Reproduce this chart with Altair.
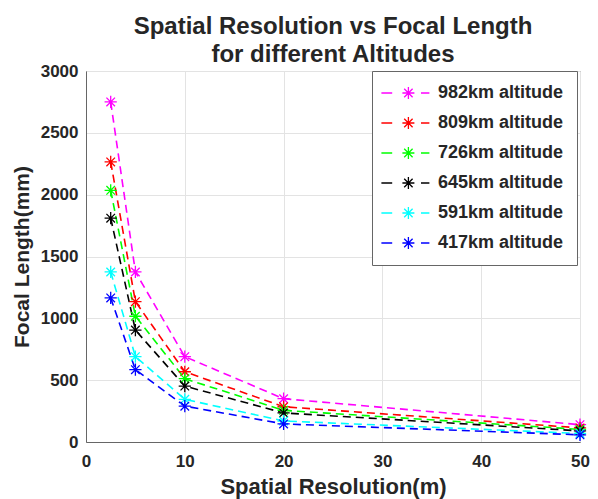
import altair as alt
import pandas as pd

resolution_m = [2.5, 5, 10, 20, 50]
series_names = ["982km altitude", "809km altitude", "726km altitude",
                "645km altitude", "591km altitude", "417km altitude"]
alt_982 = [2750, 1375, 690, 350, 140]
alt_809 = [2265, 1135, 568, 285, 114]
alt_726 = [2035, 1017, 512, 256, 102]
alt_645 = [1810, 905, 452, 235, 90]
alt_591 = [1375, 690, 345, 170, 69]
alt_417 = [1165, 585, 290, 146, 58]
series_colors = ["#ff00ff", "#ff0000", "#00ff00", "#000000", "#00ffff", "#0000ff"]

all_values = [alt_982, alt_809, alt_726, alt_645, alt_591, alt_417]
rows = []
for name, vals in zip(series_names, all_values):
    for xv, yv in zip(resolution_m, vals):
        rows.append({"series": name, "res": xv, "focal": yv})
df = pd.DataFrame(rows)

ASTERISK = "M-1,0L1,0M0,-1L0,1M-0.7,-0.7L0.7,0.7M-0.7,0.7L0.7,-0.7"
LEGEND_SYMBOL = ("M-2.1,0L-0.3,0M4.5,0L5.9,0"
                 "M1.4,0L3.4,0M2.4,-1L2.4,1M1.7,-0.7L3.1,0.7M1.7,0.7L3.1,-0.7")

FONT = "Liberation Sans"
TXT = "#262626"

color = alt.Color(
    "series:N",
    scale=alt.Scale(domain=series_names, range=series_colors),
    sort=series_names,
    title=None,
    legend=alt.Legend(
        orient="none", legendX=286, legendY=0,
        symbolType=LEGEND_SYMBOL, symbolSize=144, symbolStrokeWidth=1.3,
        symbolFillColor="transparent",
        labelFont=FONT, labelFontSize=18, labelFontWeight="bold", labelColor=TXT,
        labelOffset=35, rowPadding=12, padding=13,
        strokeColor="#666666", fillColor="white",
    ),
)

x = alt.X("res:Q", scale=alt.Scale(domain=[0, 50], nice=False),
          axis=alt.Axis(title="Spatial Resolution(m)", values=[0, 10, 20, 30, 40, 50],
                        format="d", labelPadding=11, titlePadding=7, titleFontSize=22,
                        labelFlush=False))
y = alt.Y("focal:Q", scale=alt.Scale(domain=[0, 3000], nice=False),
          axis=alt.Axis(title="Focal Length(mm)", values=[0, 500, 1000, 1500, 2000, 2500, 3000],
                        format="d", labelPadding=8, titlePadding=8))

lines = alt.Chart(df).mark_line(strokeDash=[8, 5], strokeWidth=1.6).encode(
    x=x, y=y, color=color)
points = alt.Chart(df).mark_point(shape=ASTERISK, size=150, filled=False, strokeWidth=1.3, opacity=1).encode(
    x=x, y=y, color=color)

chart = alt.layer(lines, points).properties(
    width=494, height=371,
    padding={"left": 86, "top": 71, "right": 18, "bottom": 57},
    autosize=alt.AutoSizeParams(type="none"),
    background="white",
    title=alt.TitleParams(
        text=["Spatial Resolution vs Focal Length", "for different Altitudes"],
        font=FONT, fontSize=24, fontWeight="bold", color=TXT, lineHeight=28,
        anchor="middle", offset=-5),
).configure_view(stroke="#666666", strokeWidth=1).configure_axis(
    labelFont=FONT, labelFontSize=17, labelFontWeight="bold", labelColor=TXT,
    titleFont=FONT, titleFontSize=21, titleFontWeight="bold", titleColor=TXT,
    grid=True, gridColor="#e3e3e3", gridWidth=1,
    domain=True, domainColor="#666666", ticks=False,
)

chart.save("out.html", embed_options={"renderer": "svg", "actions": False})
